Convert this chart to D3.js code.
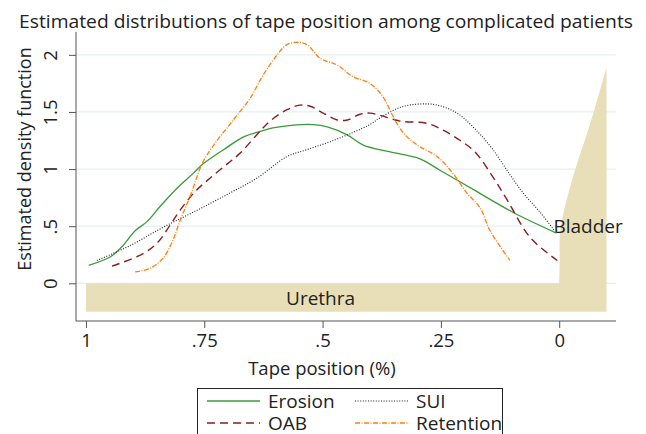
<!DOCTYPE html>
<html lang="en">
<head>
<meta charset="UTF-8">
<script src="https://d3js.org/d3.v7.min.js"></script>
<style>
  body { margin: 0; background: white; }
  svg { font-family: "Open Sans", "Noto Sans", sans-serif; }
</style>
</head>
<body>
<div id="chart"></div>
<script>
  // tape position (1 = urethra start, 0 = bladder neck) and density values
  var erosionX = [0.994, 0.949, 0.924, 0.896, 0.871, 0.844, 0.808, 0.774, 0.751, 0.702, 0.668, 0.632, 0.605, 0.562, 0.52, 0.49, 0.448, 0.414, 0.357, 0.294, 0.252, 0.181, 0.097, 0.006];
  var erosionY = [0.158, 0.23, 0.32, 0.46, 0.54, 0.67, 0.83, 0.96, 1.05, 1.19, 1.28, 1.33, 1.36, 1.385, 1.39, 1.37, 1.30, 1.21, 1.15, 1.09, 0.99, 0.82, 0.62, 0.44];

  var oabX = [0.945, 0.879, 0.848, 0.822, 0.801, 0.770, 0.738, 0.700, 0.674, 0.639, 0.611, 0.575, 0.548, 0.526, 0.499, 0.469, 0.448, 0.421, 0.40, 0.378, 0.336, 0.279, 0.245, 0.209, 0.178, 0.140, 0.110, 0.061, 0.004];
  var oabY = [0.15, 0.26, 0.36, 0.51, 0.64, 0.80, 0.92, 1.05, 1.14, 1.30, 1.42, 1.52, 1.56, 1.55, 1.49, 1.43, 1.43, 1.48, 1.49, 1.47, 1.42, 1.40, 1.34, 1.25, 1.15, 0.93, 0.73, 0.40, 0.2];

  var suiX = [0.977, 0.907, 0.837, 0.765, 0.696, 0.639, 0.575, 0.533, 0.484, 0.436, 0.40, 0.378, 0.336, 0.294, 0.258, 0.216, 0.173, 0.140, 0.104, 0.076, 0.04, 0.01];
  var suiY = [0.2, 0.33, 0.49, 0.64, 0.79, 0.92, 1.11, 1.17, 1.24, 1.32, 1.39, 1.45, 1.54, 1.57, 1.56, 1.49, 1.33, 1.17, 0.95, 0.79, 0.62, 0.46];

  var retX = [0.896, 0.865, 0.837, 0.816, 0.801, 0.780, 0.753, 0.723, 0.70, 0.681, 0.653, 0.626, 0.596, 0.575, 0.552, 0.533, 0.505, 0.469, 0.436, 0.40, 0.372, 0.351, 0.33, 0.30, 0.258, 0.224, 0.195, 0.167, 0.146, 0.104];
  var retY = [0.10, 0.13, 0.22, 0.38, 0.55, 0.76, 1.06, 1.25, 1.37, 1.47, 1.62, 1.82, 2.0, 2.09, 2.11, 2.09, 1.97, 1.91, 1.81, 1.75, 1.63, 1.46, 1.32, 1.21, 1.11, 0.96, 0.79, 0.66, 0.46, 0.20];

  // anatomy backdrop: urethra band and bladder wall
  var urethraX = [1, 0];
  var urethraBottom = -0.25;
  var bladderX = [0, -0.001, -0.002, -0.017, -0.038, -0.061, -0.082, -0.1];
  var bladderY = [0, 0.2, 0.46, 0.75, 1.05, 1.34, 1.63, 1.89];

  var xTicks = [1, 0.75, 0.5, 0.25, 0];
  var xTickLabels = ["1", ".75", ".5", ".25", "0"];
  var yTicks = [0, 0.5, 1, 1.5, 2];
  var yTickLabels = ["0", ".5", "1", "1.5", "2"];

  var series = [
    { name: "Erosion", xs: erosionX, ys: erosionY, color: "#3a9a3a", dash: null, w: 1.3 },
    { name: "SUI", xs: suiX, ys: suiY, color: "#222", dash: "1,1.6", w: 1.1 },
    { name: "OAB", xs: oabX, ys: oabY, color: "#8b1c1c", dash: "8,5", w: 1.4 },
    { name: "Retention", xs: retX, ys: retY, color: "#ff7f0e", dash: "5,1.5,1,1.5", w: 1.3 }
  ];

  var W = 646, H = 434;
  var pLeft = 76, pRight = 616, pTop = 32, pBottom = 321;
  var fs = 18.5;

  var svg = d3.select("#chart").append("svg")
    .attr("width", W).attr("height", H);

  var x = d3.scaleLinear().domain([1.021, -0.12]).range([pLeft, pRight]);
  var y = d3.scaleLinear().domain([-0.33, 2.2]).range([pBottom, pTop]);

  // grid
  svg.append("g").selectAll("line").data(yTicks).join("line")
    .attr("x1", pLeft).attr("x2", pRight)
    .attr("y1", d => y(d)).attr("y2", d => y(d))
    .attr("stroke", "#e6eff0").attr("stroke-width", 1.2);

  // urethra + bladder shape
  var curvePts = bladderX.map((v, i) => [v, bladderY[i]]);
  var bladderPath = d3.line().x(d => x(d[0])).y(d => y(d[1])).curve(d3.curveCatmullRom.alpha(0.5));
  var p = d3.path();
  p.moveTo(x(urethraX[0]), y(urethraBottom));
  p.lineTo(x(urethraX[0]), y(0));
  p.lineTo(x(urethraX[1]), y(0));
  var curveD = bladderPath(curvePts).replace(/^M[^CL]*/, "");
  var last = bladderX[bladderX.length - 1];
  svg.append("path")
    .attr("d", p.toString() + curveD + "L" + x(last) + "," + y(urethraBottom) + "Z")
    .attr("fill", "#e8dfb8");

  svg.append("text").attr("x", x(0.5) - 2).attr("y", y(-0.125) + 7)
    .attr("text-anchor", "middle").attr("font-size", 19).attr("fill", "#222")
    .text("Urethra");
  svg.append("text").attr("x", x(0.01) - 1).attr("y", y(0.5) + 7)
    .attr("font-size", 19).attr("fill", "#222")
    .text("Bladder");

  // lines
  var line = d3.line().x(d => x(d[0])).y(d => y(d[1])).curve(d3.curveCatmullRom.alpha(0.5));
  series.forEach(function(s) {
    svg.append("path")
      .attr("d", line(s.xs.map((v, i) => [v, s.ys[i]])))
      .attr("fill", "none")
      .attr("stroke", s.color)
      .attr("stroke-width", s.w)
      .attr("stroke-dasharray", s.dash);
  });

  // axes
  var xAxis = svg.append("g").attr("transform", `translate(0,${pBottom})`)
    .call(d3.axisBottom(x).tickValues(xTicks).tickSize(7).tickPadding(6)
      .tickFormat((d, i) => xTickLabels[i]));
  xAxis.select(".domain").attr("d", `M${pLeft},0H${pRight}`).attr("stroke", "#555");
  xAxis.selectAll("line").attr("stroke", "#555");
  xAxis.selectAll("text").attr("font-size", fs).attr("fill", "#222")
    .attr("font-family", "Open Sans, Noto Sans, sans-serif");

  var yAxis = svg.append("g").attr("transform", `translate(${pLeft},0)`)
    .call(d3.axisLeft(y).tickValues(yTicks).tickSize(7)
      .tickFormat((d, i) => yTickLabels[i]));
  yAxis.select(".domain").attr("d", `M0,${pTop}V${pBottom}`).attr("stroke", "#555");
  yAxis.selectAll("line").attr("stroke", "#555");
  yAxis.selectAll("text").attr("font-size", fs).attr("fill", "#222")
    .attr("font-family", "Open Sans, Noto Sans, sans-serif")
    .attr("transform", "rotate(-90)")
    .attr("x", 0).attr("y", -19).attr("dy", 0)
    .attr("text-anchor", "middle");

  // titles
  svg.append("text").attr("x", 326).attr("y", 28).attr("text-anchor", "middle")
    .attr("font-size", 19).attr("fill", "#222")
    .attr("textLength", 614).attr("lengthAdjust", "spacingAndGlyphs")
    .text("Estimated distributions of tape position among complicated patients");
  svg.append("text").attr("x", 322).attr("y", 375).attr("text-anchor", "middle")
    .attr("font-size", fs).attr("fill", "#222").text("Tape position (%)");
  svg.append("text").attr("transform", "translate(31,159) rotate(-90)")
    .attr("text-anchor", "middle").attr("font-size", 18).attr("fill", "#222")
    .text("Estimated density function");

  // legend
  var lg = svg.append("g");
  lg.append("rect").attr("x", 197.5).attr("y", 388.5).attr("width", 305).attr("height", 60)
    .attr("fill", "white").attr("stroke", "#222").attr("stroke-width", 1);
  var pos = [[207, 401], [355, 401], [207, 423], [355, 423]];
  series.forEach(function(s, i) {
    var px = pos[i][0], py = pos[i][1];
    lg.append("line").attr("x1", px).attr("x2", px + 53).attr("y1", py).attr("y2", py)
      .attr("stroke", s.color).attr("stroke-width", s.w).attr("stroke-dasharray", s.dash);
    lg.append("text").attr("x", px + 61).attr("y", py + 7).attr("font-size", 19)
      .attr("fill", "#222").text(s.name);
  });
</script>
</body>
</html>
